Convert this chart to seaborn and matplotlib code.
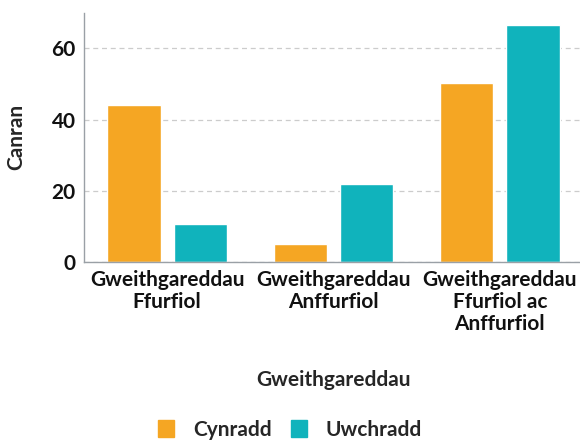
import pandas as pd
import matplotlib.pyplot as plt
import seaborn as sns

# datos
categorias = ['Gweithgareddau\nFfurfiol', 'Gweithgareddau\nAnffurfiol',
              'Gweithgareddau\nFfurfiol ac\nAnffurfiol']
cynradd = [44, 5, 50.2]
uwchradd = [10.8, 21.8, 66.5]
series = ['Cynradd', 'Uwchradd']
colores = ['#F5A623', '#10B3BC']

datos = pd.DataFrame({
    'Gweithgareddau': categorias * 2,
    'Canran': cynradd + uwchradd,
    'Cyfnod': [series[0]] * 3 + [series[1]] * 3,
})

sns.set_style('white')
plt.rcParams['font.family'] = ['Lato', 'DejaVu Sans']
plt.rcParams['font.weight'] = 'bold'

fig = plt.figure(figsize=(5.8, 4.41), dpi=100)
ax = fig.add_axes([0.145, 0.406, 0.86, 0.565])

sns.barplot(data=datos, x='Gweithgareddau', y='Canran', hue='Cyfnod',
            palette=colores, saturation=1, width=0.8, gap=0.2, ax=ax,
            legend=False)

ax.set_xlim(-0.5, 2.5)
ax.set_ylim(0, 70)
ax.set_yticks([0, 20, 40, 60])
ax.grid(axis='y', color='#cccccc', linestyle=(0, (4, 3)), linewidth=0.9)
ax.set_axisbelow(True)
for lado in ['top', 'right']:
    ax.spines[lado].set_visible(False)
for lado in ['left', 'bottom']:
    ax.spines[lado].set_color('#9aa0a6')
    ax.spines[lado].set_linewidth(1)
ax.tick_params(length=0, labelsize=15, colors='#111111', pad=6)
for t in ax.get_xticklabels():
    t.set_linespacing(1.12)
    t.set_fontweight('bold')
for t in ax.get_yticklabels():
    t.set_fontweight('bold')

ax.set_ylabel('Canran', fontsize=15, fontweight='bold', labelpad=18)
ax.set_xlabel('Gweithgareddau', fontsize=15, fontweight='bold', labelpad=26)

handles = [plt.Rectangle((0, 0), 1, 1, color=c) for c in colores]
fig.legend(handles, series, loc='lower center', bbox_to_anchor=(0.5, -0.04),
           ncol=2, frameon=False, fontsize=15, handlelength=0.8,
           handleheight=0.9, columnspacing=0.9, handletextpad=0.9)

fig.savefig('out.png', dpi=100)
